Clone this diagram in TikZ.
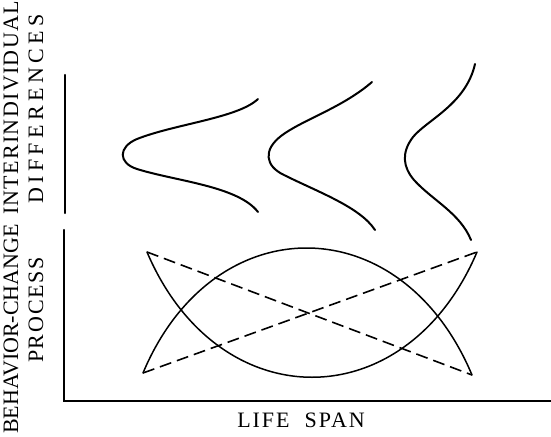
\documentclass[tikz,border=0pt]{standalone}
\usepackage{fontspec}
\setmainfont{Liberation Serif}
\newfontfamily\lsZ{Liberation Serif}
\newfontfamily\lsA[LetterSpace=6]{Liberation Serif}
\newfontfamily\lsP[LetterSpace=8]{Liberation Serif}
\newfontfamily\lsL[LetterSpace=9]{Liberation Serif}
\newfontfamily\lsB[LetterSpace=20]{Liberation Serif}
\begin{document}
\begin{tikzpicture}[x=1pt,y=-1pt,
  axis/.style={line width=2.4pt,line cap=round},
  curve/.style={line width=2pt,line cap=round},
  thin/.style={line width=1.5pt,line cap=round},
  dashline/.style={line width=1.6pt,dash pattern=on 12pt off 6pt},
  lbl/.style={inner sep=0pt},
  fz/.style={font=\lsZ\fontsize{22}{22}\selectfont},
  fa/.style={font=\lsA\fontsize{22}{22}\selectfont},
  fp/.style={font=\lsP\fontsize{22}{22}\selectfont},
  fl/.style={font=\lsL\fontsize{22}{22}\selectfont},
  fb/.style={font=\lsB\fontsize{22}{22}\selectfont}]
\useasboundingbox (0,0) rectangle (551,436);
% axes
\coordinate (ua) at (65,75);
\coordinate (ub) at (65,213);
\coordinate (la) at (64,230);
\coordinate (lo) at (64,401);
\coordinate (xe) at (551,401);
\draw[axis] (ua) -- (ub);
\draw[axis] (la) -- (lo) -- (xe);
% labels
\node[lbl,fa,rotate=90] (ylab1) at (11,108) {INTERINDIVIDUAL};
\node[lbl,fz,rotate=90] (ylab2) at (11,329) {BEHAVIOR-CHANGE};
\node[lbl,fb,rotate=90] (ylab3) at (36,109) {DIFFERENCES};
\node[lbl,fp,rotate=90] (ylab4) at (36,310) {PROCESS};
\node[lbl,fl] (xlab) at (301,420) {LIFE\ \ SPAN};
% distributions
\draw[curve] (258,99) .. controls (238,118) and (175,124) .. (137,139)
  .. controls (118,147) and (118,163) .. (137,169)
  .. controls (175,181) and (238,186) .. (258,212);
\draw[curve] (372,82) .. controls (342,108) and (302,120) .. (281,136)
  .. controls (263,150) and (265,166) .. (284,175)
  .. controls (318,192) and (360,207) .. (375,230);
\draw[curve] (475,64) .. controls (466,104) and (427,120) .. (413,137)
  .. controls (401,153) and (403,167) .. (414,180)
  .. controls (432,200) and (460,213) .. (471,240);
% process curves
\coordinate (a1) at (147,252);
\coordinate (a2) at (477,252);
\coordinate (b1) at (143,373);
\coordinate (b2) at (472,375);
\draw[thin] (a1) .. controls (218,419) and (406,419) .. (a2);
\draw[thin] (b1) .. controls (213,206) and (401,206) .. (b2);
\draw[dashline] (a1) -- (b2);
\draw[dashline] (b1) -- (a2);
\end{tikzpicture}
\end{document}
